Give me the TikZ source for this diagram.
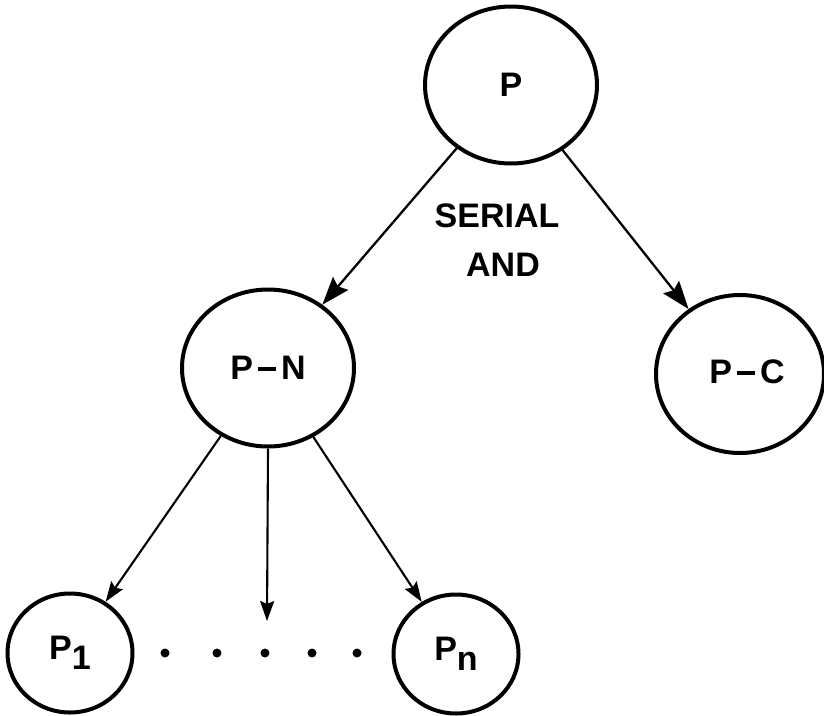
\documentclass[tikz,border=0pt]{standalone}
\usepackage{fontspec}
\setmainfont{Liberation Sans}
\usetikzlibrary{arrows.meta,shapes.geometric}
\newcommand{\bardash}{\hspace{5pt}\rule[9pt]{18pt}{4pt}\hspace{5pt}}
\begin{document}
\begin{tikzpicture}[x=1pt,y=-1pt,
  lettering/.style={font=\fontsize{34}{38}\selectfont\bfseries},
  bignode/.style={ellipse,draw,line width=4pt,inner sep=0pt,
    minimum width=172pt,minimum height=157pt,lettering},
  leafnode/.style={ellipse,draw,line width=4pt,inner sep=0pt,
    minimum width=125pt,minimum height=119pt,lettering},
  toparrow/.style={line width=2.3pt,-{Stealth[length=28pt,width=20pt,inset=4pt]}},
  subarrow/.style={line width=2.1pt,-{Stealth[length=20pt,width=14pt,inset=3pt]}},
  dot/.style={circle,fill,inner sep=0pt,minimum size=9pt}]
\useasboundingbox (0,0) rectangle (824,715);

% tree nodes
\node[bignode] (P)  at (511,85)  {P};
\node[bignode] (PN) at (268,368) {P\bardash N};
\node[bignode,minimum width=168pt,minimum height=158pt,
  label={[lettering,xshift=7pt,yshift=2pt]center:P\bardash C}]
  (PC) at (740,374) {};
\node[leafnode] (P1) at (70,653)  {P\raisebox{-10pt}{1}};
\node[leafnode] (Pn) at (456,654) {P\raisebox{-10pt}{n}};

% label between the upper branches
\node[lettering] (serial) at (497,216) {SERIAL};
\node[lettering] (and)    at (503,265) {AND};

% ellipsis between the leaves
\node[dot] (d1) at (165,653) {};
\node[dot] (d2) at (217,653) {};
\node[dot] (d3) at (265,653) {};
\node[dot] (d4) at (312,653) {};
\node[dot] (d5) at (357,653) {};

% connectors
\coordinate (mid) at (267,621);
\draw[toparrow] (P) -- (PN);
\draw[toparrow] (P) -- (PC);
\draw[subarrow] (PN) -- (P1);
\draw[subarrow] (PN.south) -- (mid);
\draw[subarrow] (PN) -- (Pn);
\end{tikzpicture}
\end{document}
